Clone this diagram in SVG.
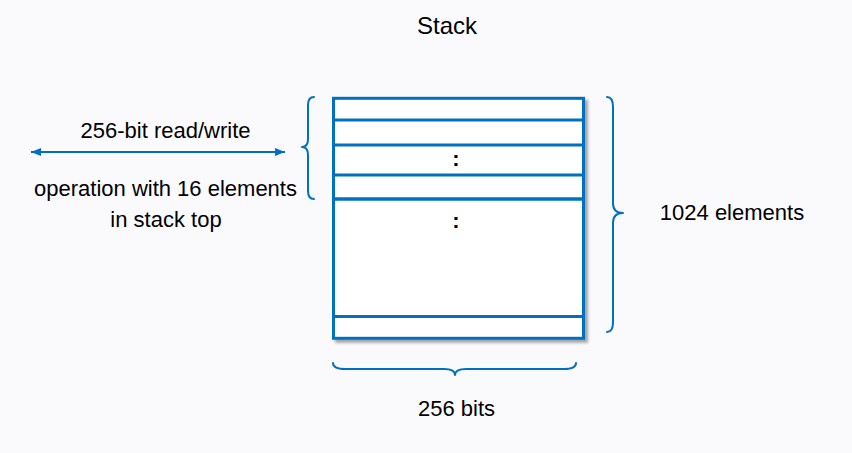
<svg xmlns="http://www.w3.org/2000/svg" width="852" height="453" viewBox="0 0 852 453">
  <defs>
    <style>
      .t { font-family: "Liberation Sans", Arial, sans-serif; font-size: 22px; fill: #000; text-anchor: middle; }
      .blue { stroke: #0070C0; fill: none; }
      .brace { stroke: #0070C0; fill: none; stroke-width: 2; stroke-linecap: round; stroke-linejoin: round; }
    </style>
    <marker id="ah" viewBox="0 0 10 8" refX="10" refY="4" markerWidth="10" markerHeight="8" markerUnits="userSpaceOnUse" orient="auto-start-reverse">
      <path d="M0,0 L10,4 L0,8 Z" fill="#0070C0"/>
    </marker>
    <filter id="sh" x="-10%" y="-10%" width="130%" height="130%">
      <feGaussianBlur in="SourceAlpha" stdDeviation="1.5"/>
      <feOffset dx="3" dy="3"/>
      <feComponentTransfer><feFuncA type="linear" slope="0.35"/></feComponentTransfer>
      <feMerge><feMergeNode/><feMergeNode in="SourceGraphic"/></feMerge>
    </filter>
  </defs>
  <rect x="0" y="0" width="852" height="453" fill="#FAFAFD"/>

  <g id="title"><text class="t" x="447" y="34" font-size="24" style="font-size:24px">Stack</text></g>

  <g id="stack">
    <rect x="333.5" y="98.3" width="250" height="240" fill="#fff" stroke="#0070C0" stroke-width="3" filter="url(#sh)"/>
    <g class="blue" stroke-width="3">
      <line x1="333.5" y1="120" x2="583.5" y2="120"/>
      <line x1="333.5" y1="145" x2="583.5" y2="145"/>
      <line x1="333.5" y1="175" x2="583.5" y2="175"/>
      <line x1="333.5" y1="199" x2="583.5" y2="199" stroke-width="3.4"/>
      <line x1="333.5" y1="316.5" x2="583.5" y2="316.5"/>
    </g>
    <text class="t" x="456" y="166" style="font-weight:bold">:</text>
    <text class="t" x="456" y="228" style="font-weight:bold">:</text>
  </g>

  <g id="connectors">
    <line class="blue" x1="31" y1="152" x2="285" y2="152" stroke-width="2" marker-start="url(#ah)" marker-end="url(#ah)"/>
    <path class="brace" d="M314,97 Q308,97 308,105 L308,139 Q308,147 302,147 Q308,147 308,155 L308,191 Q308,199 314,199"/>
    <path class="brace" d="M607,97 Q613,97 613,107 L613,203 Q613,213 623,213 Q613,213 613,223 L613,322 Q613,332 607,332"/>
    <path class="brace" d="M333,363 Q333,369 345,369 L444,369 Q455,369 455,375 Q455,369 466,369 L564,369 Q576,369 576,363"/>
  </g>

  <g id="labels">
    <text class="t" x="165.5" y="138">256-bit read/write</text>
    <text class="t" x="165.5" y="196">operation with 16 elements</text>
    <text class="t" x="166" y="227">in stack top</text>
    <text class="t" x="732" y="220">1024 elements</text>
    <text class="t" x="456.5" y="416">256 bits</text>
  </g>
</svg>
